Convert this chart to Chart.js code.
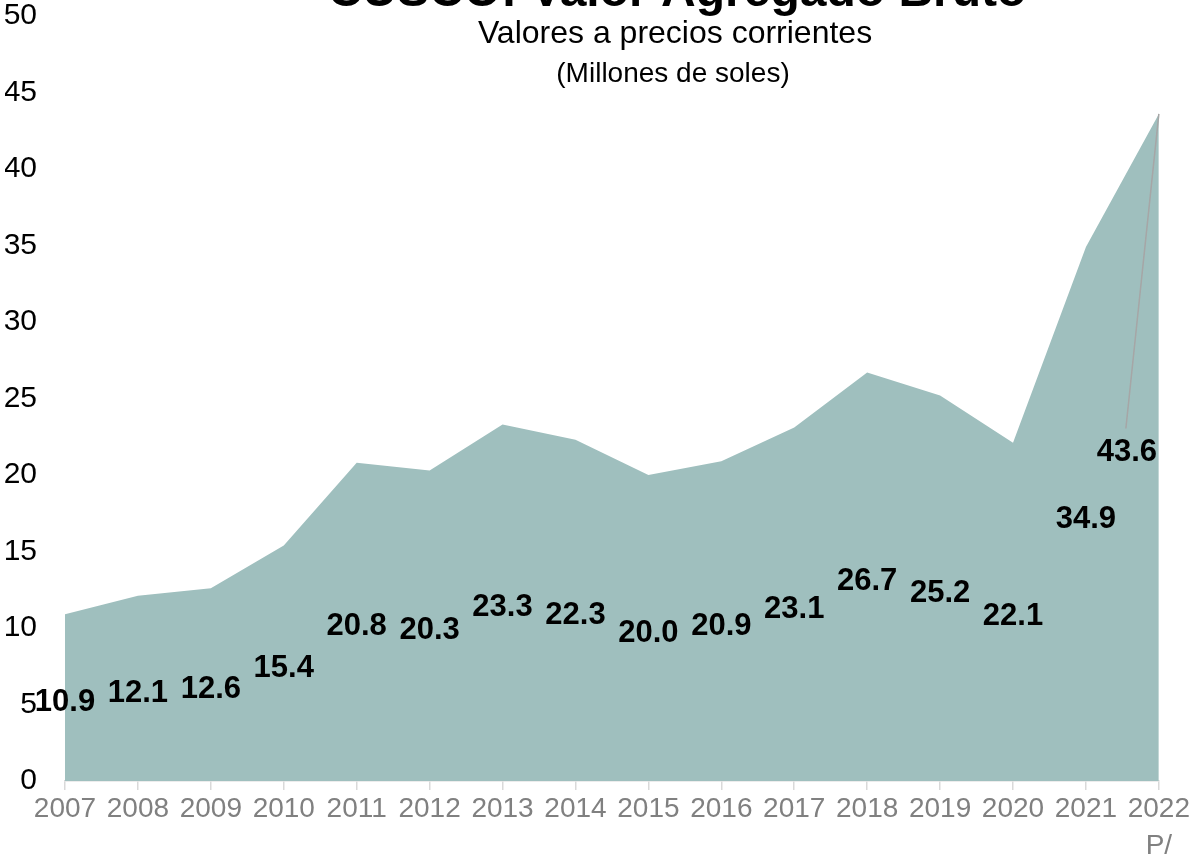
<!DOCTYPE html>
<html>
<head>
<meta charset="utf-8">
<script src="https://cdn.jsdelivr.net/npm/chart.js@4.4.1/dist/chart.umd.min.js"></script>
<style>
  html, body { margin: 0; padding: 0; background: #fff; }
  #wrap { width: 1190px; height: 865px; }
</style>
</head>
<body>
<div id="wrap"><canvas id="vab"></canvas></div>
<script>
const years = ['2007', '2008', '2009', '2010', '2011', '2012', '2013', '2014',
  '2015', '2016', '2017', '2018', '2019', '2020', '2021', ['2022', 'P/']]
const vab = [10.9, 12.1, 12.6, 15.4, 20.8, 20.3, 23.3, 22.3,
  20.0, 20.9, 23.1, 26.7, 25.2, 22.1, 34.9, 43.6]
const yTicks = [0, 5, 10, 15, 20, 25, 30, 35, 40, 45, 50]

const FONT = '"Liberation Sans", Arial, sans-serif'

// labels sit half way up the area, like the Excel original
const valueLabels = {
  id: 'valueLabels',
  afterDatasetsDraw(chart) {
    const { ctx, scales: { x, y } } = chart
    ctx.save()
    ctx.font = 'bold 31px ' + FONT
    ctx.fillStyle = '#000'
    ctx.textAlign = 'center'
    ctx.textBaseline = 'middle'
    vab.forEach((v, i) => {
      let px = x.getPixelForValue(i)
      let py = y.getPixelForValue(v / 2) + 5
      if (i === vab.length - 1) {
        px -= 32
        ctx.strokeStyle = '#A6A6A6'
        ctx.lineWidth = 1.5
        ctx.beginPath()
        ctx.moveTo(px - 1, py - 24)
        ctx.lineTo(x.getPixelForValue(i), y.getPixelForValue(v))
        ctx.stroke()
      }
      ctx.fillText(v.toFixed(1), px, py)
    })
    ctx.restore()
  }
}

const titles = {
  id: 'titles',
  afterDraw(chart) {
    const { ctx } = chart
    ctx.save()
    ctx.fillStyle = '#000'
    ctx.textAlign = 'center'
    ctx.textBaseline = 'alphabetic'
    ctx.font = 'bold 48px ' + FONT
    ctx.fillText('CUSCO: Valor Agregado Bruto', 677, 6)
    ctx.textBaseline = 'middle'
    ctx.font = '32px ' + FONT
    ctx.fillText('Valores a precios corrientes', 675, 34)
    ctx.font = '28px ' + FONT
    ctx.fillText('(Millones de soles)', 673, 74)
    ctx.restore()
  }
}

new Chart(document.getElementById('vab'), {
  type: 'line',
  data: {
    labels: years,
    datasets: [{
      data: vab,
      fill: 'origin',
      backgroundColor: '#9FBFBE',
      borderColor: '#9FBFBE',
      borderWidth: 0,
      pointRadius: 0,
      tension: 0,
    }]
  },
  options: {
    responsive: true,
    maintainAspectRatio: false,
    animation: false,
    layout: { padding: { left: 5, top: 16, right: 30, bottom: 0 } },
    plugins: {
      legend: { display: false },
      tooltip: { enabled: false },
    },
    scales: {
      x: {
        offset: false,
        grid: {
          drawOnChartArea: false,
          color: '#D9D9D9',
          tickLength: 9,
          lineWidth: 1.5,
        },
        border: { color: '#D9D9D9', width: 1.5 },
        ticks: {
          color: '#808080',
          font: { family: FONT, size: 28, lineHeight: 1.35 },
          maxRotation: 0,
          autoSkip: false,
          padding: 0,
        },
        afterFit(scale) { scale.height = 84 },
      },
      y: {
        min: 0,
        max: 50,
        afterBuildTicks(scale) { scale.ticks = yTicks.map(v => ({ value: v })) },
        // no grid drawn, but tickLength still sets the label gap
        grid: { display: false, drawTicks: true, tickLength: 28 },
        border: { display: false },
        ticks: {
          color: '#000',
          font: { family: FONT, size: 30, lineHeight: 1 },
          padding: 0,
        },
        afterFit(scale) { scale.width = 60 },
      }
    }
  },
  plugins: [valueLabels, titles]
})
</script>
</body>
</html>
